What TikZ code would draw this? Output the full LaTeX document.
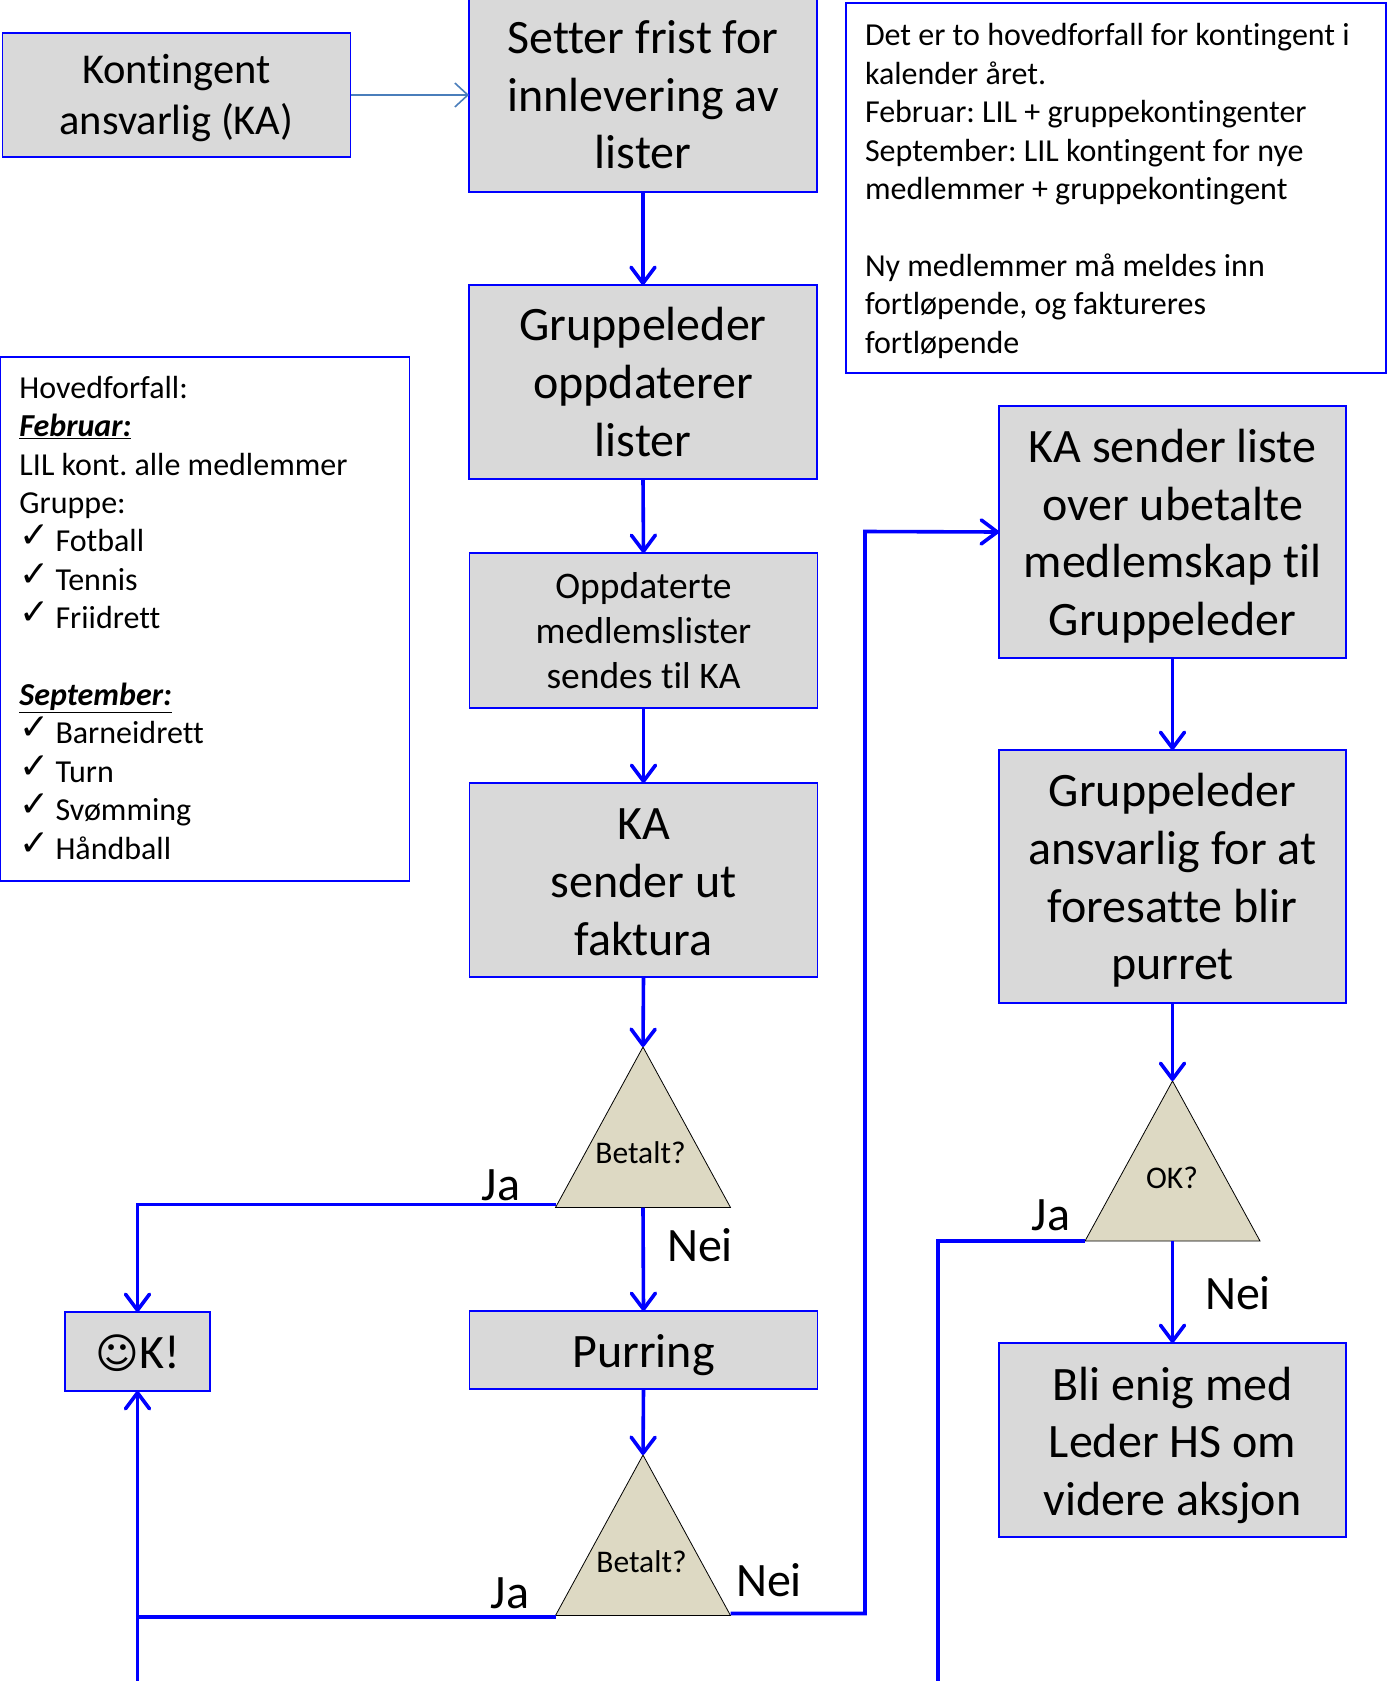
\documentclass[tikz,border=0pt]{standalone}
\usepackage{fontspec}
\setmainfont[Ligatures=NoCommon]{Carlito}
\newfontfamily\symfont{DejaVu Sans}
\usetikzlibrary{arrows.meta}
\definecolor{boxfill}{HTML}{D9D9D9}
\definecolor{trifill}{HTML}{DDD9C3}
\definecolor{lineblue}{HTML}{0000FF}
\definecolor{thinblue}{HTML}{4A7EBB}
\newcommand{\ck}{\makebox[36pt][l]{\smash{\raisebox{4pt}{\symfont\fontsize{36}{38}\selectfont ✓}}}}
\newcommand{\lift}[1]{\rule{0pt}{#1pt}}
\tikzset{
  box/.style={draw=lineblue,line width=1.8pt,fill=boxfill,align=center,inner sep=0pt,outer sep=0pt,text=black},
  big/.style={font=\frenchspacing\fontsize{48}{57.6}\selectfont},
  mid/.style={font=\frenchspacing\fontsize{42.5}{51}\selectfont},
  small/.style={font=\frenchspacing\fontsize{37.5}{45}\selectfont},
  notebox/.style={draw=lineblue,line width=1.6pt,fill=white,align=flush left,inner xsep=19pt,inner ysep=0pt,outer sep=0pt,font=\frenchspacing\fontsize{32}{38.4}\selectfont},
  tri/.style={draw=black,line width=0.8pt,fill=trifill},
  trilabel/.style={font=\fontsize{31.5}{34}\selectfont,inner sep=0pt},
  yn/.style={font=\fontsize{48}{50}\selectfont,inner sep=0pt},
  flow/.style={draw=lineblue,line width=3.6pt,-{Straight Barb[length=16pt,width=24pt,round]}},
  flowplain/.style={draw=lineblue,line width=3.6pt},
  flowthin/.style={draw=lineblue,line width=3pt},
  thinflow/.style={draw=thinblue,line width=1.6pt,-{Straight Barb[length=13pt,width=24pt]}}
}
\begin{document}
\begin{tikzpicture}[x=1pt,y=-1pt]
\useasboundingbox (0,0) rectangle (1390,1681);
\clip (0,0) rectangle (1390,1681);
% boxes
\node[box,mid,minimum width=348pt,minimum height=124pt] (ka) at (176.5,95) {\lift{36}Kontingent\\ansvarlig (KA)};
\node[box,big,minimum width=348pt,minimum height=194pt] (setter) at (643,95) {Setter frist for\\innlevering av\\lister};
\node[box,big,minimum width=348pt,minimum height=194pt] (gl) at (643,382) {Gruppeleder\\oppdaterer\\lister};
\node[box,small,minimum width=348pt,minimum height=155pt] (opp) at (643.5,630.5) {Oppdaterte\\medlemslister\\sendes til KA};
\node[box,big,minimum width=348pt,minimum height=194pt] (faktura) at (643.5,880) {\lift{35.5}KA\\sender ut\\faktura};
\node[box,big,minimum width=348pt,minimum height=78pt] (purring) at (643.5,1350) {\lift{44}Purring};
\node[box,big,minimum width=145pt,minimum height=79pt] (ok) at (137.5,1351.5) {\lift{38}{\symfont\fontsize{42}{50}\selectfont ☺}K!};
\node[box,big,minimum width=347pt,minimum height=252pt] (ubetalt) at (1172.5,532) {\lift{41.5}KA sender liste\\over ubetalte\\medlemskap til\\Gruppeleder};
\node[box,big,minimum width=347pt,minimum height=253pt] (ansvar) at (1172.5,876.5) {\lift{41.5}Gruppeleder\\ansvarlig for at\\foresatte blir\\purret};
\node[box,big,minimum width=347pt,minimum height=194pt] (enig) at (1172.5,1440) {\lift{43.5}Bli enig med\\Leder HS om\\videre aksjon};
% notes
\node[notebox,text width=502pt,minimum height=370pt] (note) at (1116,188) {\lift{28}Det er to hovedforfall for kontingent i\\kalender året.\\Februar: LIL + gruppekontingenter\\September: LIL kontingent for nye\\medlemmer + gruppekontingent\\[38.4pt]Ny medlemmer må meldes inn\\fortløpende, og faktureres\\fortløpende};
\node[notebox,text width=371pt,minimum height=524pt] (hoved) at (205,619) {Hovedforfall:\\\underline{\textbf{\textit{Februar:}}}\\LIL kont. alle medlemmer\\Gruppe:\\\ck Fotball\\\ck Tennis\\\ck Friidrett\\[38.4pt]\underline{\textbf{\textit{September:}}}\\\ck Barneidrett\\\ck Turn\\\ck Svømming\\\ck Håndball\rule[-3pt]{0pt}{1pt}};
% triangles
\coordinate (t1a) at (643,1047);
\coordinate (t1l) at (555.5,1207.5);
\coordinate (t1r) at (730.5,1207.5);
\coordinate (t1b) at (643,1207.5);
\coordinate (t2a) at (643,1455);
\coordinate (t2l) at (555.5,1615.5);
\coordinate (t2r) at (730.5,1615.5);
\coordinate (t3a) at (1172.5,1081);
\coordinate (t3l) at (1085,1241);
\coordinate (t3r) at (1260,1241);
\coordinate (t3b) at (1172.5,1241);
\draw[tri] (t1a) -- (t1r) -- (t1l) -- cycle;
\draw[tri] (t2a) -- (t2r) -- (t2l) -- cycle;
\draw[tri] (t3a) -- (t3r) -- (t3l) -- cycle;
\node[trilabel] (q1) at (640.5,1153) {Betalt?};
\node[trilabel] (q2) at (641.5,1562) {Betalt?};
\node[trilabel] (q3) at (1172,1178) {OK?};
% labels
\node[yn] (ja1) at (501,1185) {Ja};
\node[yn] (nei1) at (700,1245) {Nei};
\node[yn] (ja2) at (510,1593) {Ja};
\node[yn] (nei2) at (769,1580) {Nei};
\node[yn] (ja3) at (1051,1215) {Ja};
\node[yn] (nei3) at (1238,1293) {Nei};
% helper points
\coordinate (c1) at (137.5,1204.5);
\coordinate (c2) at (137.5,1617);
\coordinate (j2s) at (555.5,1617);
\coordinate (j1s) at (555.5,1204.5);
\coordinate (bot) at (137.5,1681);
\coordinate (n2a) at (865,1613.5);
\coordinate (n2b) at (865,531.5);
\coordinate (n2s) at (730.5,1613.5);
\coordinate (k3a) at (938,1241);
\coordinate (k3b) at (938,1681);
% connectors
\draw[thinflow] (ka.east) -- (setter.west |- ka.east);
\draw[flow] (setter.south) -- (gl.north);
\draw[flow] (gl.south) -- (opp.north);
\draw[flow] (opp.south) -- (faktura.north);
\draw[flow] (faktura.south) -- (t1a);
\draw[flow] (t1b) -- (purring.north);
\draw[flow] (purring.south) -- (t2a);
\draw[flow] (j1s) -- (c1) -- (ok.north);
\draw[flowplain] (j2s) -- (c2);
\draw[flowthin] (bot) -- (c2);
\draw[flow] (c2) -- (ok.south);
\draw[flow] (n2s) -- (n2a) -- (n2b) -- (ubetalt.west);
\draw[flow] (ubetalt.south) -- (ansvar.north);
\draw[flow] (ansvar.south) -- (t3a);
\draw[flow] (t3b) -- (enig.north);
\draw[flowplain] (t3l) -- (k3a) -- (k3b);
\end{tikzpicture}
\end{document}
